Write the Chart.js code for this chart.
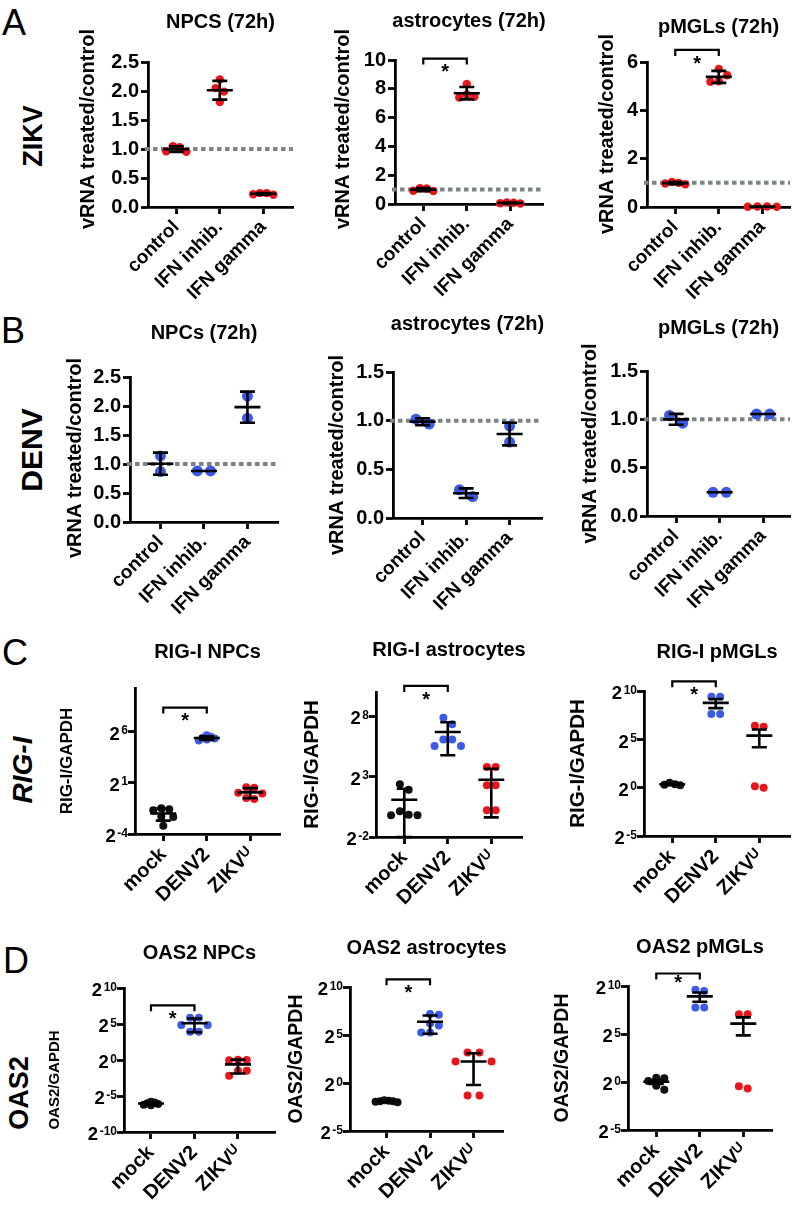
<!DOCTYPE html>
<html>
<head>
<meta charset="utf-8">
<script src="https://cdn.jsdelivr.net/npm/chart.js"></script>
<style>
  body { margin: 0; background: #fff; }
  #fig { position: relative; width: 796px; height: 1205px; overflow: hidden; font-family: 'Liberation Sans', Arial, sans-serif; color: #000; }
  canvas { position: absolute; }
  .lbl { position: absolute; white-space: nowrap; line-height: 1; }
  .letter { font-size: 36px; }
  .row { font-weight: bold; transform: translate(-50%, -50%) rotate(-90deg); }
</style>
</head>
<body>
<div id="fig">
  <div class="lbl letter" style="left:2px;top:5px">A</div>
  <div class="lbl letter" style="left:1px;top:313px">B</div>
  <div class="lbl letter" style="left:2px;top:635px">C</div>
  <div class="lbl letter" style="left:3px;top:943px">D</div>
  <div class="lbl row" style="left:33px;top:136px;font-size:27px">ZIKV</div>
  <div class="lbl row" style="left:32px;top:450px;font-size:30px">DENV</div>
  <div class="lbl row" style="left:23px;top:770px;font-size:28px;font-style:italic">RIG-I</div>
  <div class="lbl row" style="left:19px;top:1093px;font-size:27px">OAS2</div>
</div>
<script>
const fam = "'Liberation Sans', Arial, sans-serif";

// categories
const vrnaCats = ['control', 'IFN inhib.', 'IFN gamma'];
const infCats = ['mock', 'DENV2', 'ZIKV\u1D41'];

// A: ZIKV vRNA treated/control, one array per group
const zikvNpc   = [[1.03, 0.95, 0.96, 1.05], [2.20, 2.05, 1.99, 1.81], [0.24, 0.21, 0.22, 0.24]];
const zikvAstro = [[1.08, 0.90, 0.92, 1.10], [8.33, 7.60, 7.40, 7.45], [0.09, 0.03, 0.05, 0.10]];
const zikvMgl   = [[1.00, 0.94, 0.97, 1.04], [5.71, 5.45, 5.20, 5.18], [0.02, 0.01, 0.02, 0.01]];

// B: DENV vRNA treated/control
const denvNpc   = [[1.14, 0.87], [0.88, 0.88], [2.17, 1.79]];
const denvAstro = [[0.965, 1.015], [0.22, 0.29], [0.945, 0.78]];
const denvMgl   = [[0.96, 1.04], [0.245, 0.245], [1.055, 1.055]];

// C: RIG-I/GAPDH, stored as log2
const rigNpc   = [[-1.5, -1.7, -1.6, -2.35, -2.3, -3.2], [5.6, 5.45, 5.3, 5.2, 5.1, 5.35], [0.5, 0.55, 0.0, -0.05, -0.5, -0.6]];
const rigAstro = [[2.36, 1.92, -0.15, -0.2, -0.2, 0.13], [7.86, 7.34, 6.07, 5.54, 5.54, 6.07], [3.8, 3.8, 2.28, 2.28, 0.21, 0.21]];
const rigMgl   = [[0.35, 0.25, 0.3, 0.5], [9.41, 9.41, 7.62, 7.62], [6.41, 6.31, 0.0, 0.14]];

// D: OAS2/GAPDH, stored as log2
const oasNpc   = [[-6.0, -5.8, -6.2, -5.9, -6.1, -6.3], [5.88, 5.88, 4.86, 4.86, 3.94, 3.94], [0.05, 0.0, -0.05, -1.5, -1.5, -2.2]];
const oasAstro = [[-1.8, -1.9, -2.0, -1.85, -1.95, -1.9], [7.2, 7.1, 6.2, 6.0, 5.25, 5.25], [3.17, 3.17, 2.24, 2.24, -1.31, -1.31]];
const oasMgl   = [[0.45, 0.4, 0.1, -0.4, -0.8], [9.62, 9.48, 7.76, 7.76], [7.07, 7.07, -0.69, -0.45]];

// y tick values
const ticks25 = [0, 0.5, 1, 1.5, 2, 2.5];
const ticks15 = [0, 0.5, 1, 1.5];
const ticks10 = [0, 2, 4, 6, 8, 10];
const ticks6 = [0, 2, 4, 6];
const ticksRigNpc = [-4, 1, 6];
const ticksRigAstro = [-2, 3, 8];
const ticksLog5 = [-5, 0, 5, 10];
const ticksLog10 = [-10, -5, 0, 5, 10];

const red = '#e8161b', blue = '#3b5be6', black = '#111';
const vTitle = 'vRNA treated/control';

const panels = [
  { title: 'NPCS (72h)', cats: vrnaCats, vals: zikvNpc, ticks: ticks25, dec: 1, y: [0, 2.5], box: [148, 62, 293, 207], titleY: 22, yTitle: vTitle, yTitleX: 88, yTitleY: 129, yTitleSize: 20, colors: [red, red, red], r: 4.2, gaps: [0.8, 1, 0.8], err: 'sd', ref: 1 },
  { title: 'astrocytes (72h)', cats: vrnaCats, vals: zikvAstro, ticks: ticks10, dec: 0, y: [0, 10], box: [395, 60, 543, 204], titleY: 21, yTitle: vTitle, yTitleX: 343, yTitleY: 129, yTitleSize: 20, colors: [red, red, red], r: 4.2, gaps: [0.8, 0.9, 0.8], err: 'sd', ref: 1, bracket: 10.1 },
  { title: 'pMGLs (72h)', cats: vrnaCats, vals: zikvMgl, ticks: ticks6, dec: 0, y: [0, 6], box: [647, 62, 790, 207], titleY: 27, yTitle: vTitle, yTitleX: 607, yTitleY: 134, yTitleSize: 20, colors: [red, red, red], r: 4.2, gaps: [0.8, 1, 1.15], err: 'sd', ref: 1, bracket: 6.5 },
  { title: 'NPCs (72h)', cats: vrnaCats, vals: denvNpc, ticks: ticks25, dec: 1, y: [0, 2.5], box: [130, 377, 278, 522], xMin: -0.7, titleY: 333, yTitle: vTitle, yTitleX: 75, yTitleY: 458, yTitleSize: 20, colors: [blue, blue, blue], r: 5.5, gaps: [1.2, 1.2, 1.2], err: 'sd', ref: 1 },
  { title: 'astrocytes (72h)', cats: vrnaCats, vals: denvAstro, ticks: ticks15, dec: 1, y: [0, 1.5], box: [393, 372, 542, 518], xMin: -0.68, titleY: 324, yTitle: vTitle, yTitleX: 337, yTitleY: 455, yTitleSize: 20, colors: [blue, blue, blue], r: 5.5, gaps: [1.2, 1.2, 1.2], err: 'sd', ref: 1 },
  { title: 'pMGLs (72h)', cats: vrnaCats, vals: denvMgl, ticks: ticks15, dec: 1, y: [0, 1.5], box: [647, 371, 790, 516], xMin: -0.67, titleY: 328, yTitle: vTitle, yTitleX: 590, yTitleSize: 20, colors: [blue, blue, blue], r: 5.5, gaps: [1.2, 1.2, 1.2], err: 'sd', ref: 1 },
  { title: 'RIG-I NPCs', cats: infCats, vals: rigNpc, ticks: ticksRigNpc, log: true, y: [-4, 10.2], box: [135, 688, 280, 834], titleY: 652, yTitle: 'RIG-I/GAPDH', yTitleX: 67, yTitleSize: 17, colors: [black, blue, red], r: 4, gaps: [1, 0.5, 1], err: 'sd', bracket: 8.3 },
  { title: 'RIG-I astrocytes', cats: infCats, vals: rigAstro, ticks: ticksRigAstro, log: true, y: [-2, 10], box: [376, 692, 522, 837], titleY: 650, yTitle: 'RIG-I/GAPDH', yTitleX: 312, yTitleSize: 20.5, colors: [black, blue, red], r: 4, gaps: [1.1, 1.1, 1.1], err: 'sd', bracket: 10.5 },
  { title: 'RIG-I pMGLs', cats: infCats, vals: rigMgl, ticks: ticksLog5, log: true, y: [-5, 10], box: [644, 691, 790, 836], titleY: 652, yTitle: 'RIG-I/GAPDH', yTitleX: 578, yTitleSize: 20.5, colors: [black, blue, red], r: 4, gaps: [0.66, 1.1, 1.1], err: 'sem', bracket: 11.0 },
  { title: 'OAS2 NPCs', cats: infCats, vals: oasNpc, ticks: ticksLog10, log: true, y: [-10, 10], box: [124, 988, 275, 1132], xMin: -0.62, titleY: 953, yTitle: 'OAS2/GAPDH', yTitleX: 55, yTitleY: 1080, yTitleSize: 15, colors: [black, blue, red], r: 4, gaps: [0.45, 1.1, 1.1], err: 'sd', bracket: 7.6 },
  { title: 'OAS2 astrocytes', cats: infCats, vals: oasAstro, ticks: ticksLog5, log: true, y: [-5, 10], box: [350, 987, 503, 1131], xMin: -0.84, titleY: 948, yTitle: 'OAS2/GAPDH', yTitleX: 297, yTitleSize: 19.5, colors: [black, blue, red], r: 4, gaps: [0.55, 1.1, 1.5], err: 'sd', bracket: 10.8 },
  { title: 'OAS2 pMGLs', cats: infCats, vals: oasMgl, ticks: ticksLog5, log: true, y: [-5, 10], box: [628, 986, 772, 1130], titleY: 947, yTitle: 'OAS2/GAPDH', yTitleX: 563, yTitleSize: 19.5, colors: [black, blue, red], r: 4, gaps: [1, 1.1, 1.1], err: 'sem', bracket: 11.3, starDy: 4 }
];

// mean +/- SD or SEM; log panels average the linear ratios
function stats(vals, log, err) {
  const lin = log ? vals.map(v => Math.pow(2, v)) : vals;
  const n = lin.length;
  const m = lin.reduce((a, b) => a + b, 0) / n;
  const sd = Math.sqrt(lin.reduce((a, b) => a + (b - m) * (b - m), 0) / (n - 1));
  const e = err === 'sem' ? sd / Math.sqrt(n) : sd;
  const f = v => log ? Math.log2(v) : v;
  return { mean: f(m), hi: f(m + e), lo: (log && m - e <= 0) ? -Infinity : f(m - e) };
}

// spread overlapping dots sideways (pixel offsets)
function swarm(vals, pxY, gap) {
  const order = vals.map((v, i) => i).sort((a, b) => vals[b] - vals[a]);
  const off = vals.map(() => 0);
  let group = [];
  const place = () => {
    const done = [];
    group.forEach(i => {
      for (let k = 0; k < 60; k++) {
        const o = (k % 2 ? 1 : -1) * Math.ceil(k / 2) * gap / 2;
        if (done.every(j => Math.hypot(off[j] - o, (vals[j] - vals[i]) * pxY) >= gap - 0.01)) { off[i] = o; break; }
      }
      done.push(i);
    });
    const xs = group.map(i => off[i]);
    const mid = (Math.min(...xs) + Math.max(...xs)) / 2;
    group.forEach(i => { off[i] -= mid; });
  };
  order.forEach(i => {
    const last = group[group.length - 1];
    if (group.length && (vals[last] - vals[i]) * pxY >= gap) { place(); group = []; }
    group.push(i);
  });
  place();
  return off;
}

function decorate(p, origin) {
  return {
    id: 'deco',
    beforeDatasetsDraw(chart) {
      if (p.ref == null) return;
      const { ctx, chartArea: a, scales: { y } } = chart;
      const yy = y.getPixelForValue(p.ref);
      ctx.save();
      ctx.strokeStyle = '#7b8585';
      ctx.lineWidth = 4;
      ctx.setLineDash([4.5, 3.5]);
      ctx.beginPath();
      ctx.moveTo(a.left - 3, yy);
      ctx.lineTo(a.right, yy);
      ctx.stroke();
      ctx.restore();
    },
    afterDatasetsDraw(chart) {
      const { ctx, scales: { x, y } } = chart;
      ctx.save();
      ctx.strokeStyle = '#000';
      ctx.lineWidth = 2.6;
      p.vals.forEach((g, i) => {
        const s = stats(g, p.log, p.err);
        const cx = x.getPixelForValue(i);
        const ym = y.getPixelForValue(s.mean);
        const yh = y.getPixelForValue(Math.min(s.hi, p.y[1]));
        const yl = y.getPixelForValue(Math.max(s.lo, p.y[0]));
        ctx.beginPath();
        ctx.moveTo(cx, yh); ctx.lineTo(cx, yl);
        ctx.moveTo(cx - 7.5, yh); ctx.lineTo(cx + 7.5, yh);
        ctx.moveTo(cx - 7.5, yl); ctx.lineTo(cx + 7.5, yl);
        ctx.moveTo(cx - 13, ym); ctx.lineTo(cx + 13, ym);
        ctx.stroke();
      });
      ctx.restore();
    },
    afterDraw(chart) {
      const { ctx, chartArea: a, scales: { x, y } } = chart;
      ctx.save();
      ctx.fillStyle = '#000';
      // panel title
      ctx.font = 'bold 20px ' + fam;
      ctx.textAlign = 'center';
      ctx.textBaseline = 'middle';
      ctx.fillText(p.title, (a.left + a.right) / 2, p.titleY - origin.top);
      // y axis title
      ctx.save();
      const ty = p.yTitleY != null ? p.yTitleY - origin.top : (a.top + a.bottom) / 2;
      ctx.translate(p.yTitleX - origin.left, ty);
      ctx.rotate(-Math.PI / 2);
      ctx.font = 'bold ' + p.yTitleSize + 'px ' + fam;
      ctx.fillText(p.yTitle, 0, 0);
      ctx.restore();
      // significance bracket
      if (p.bracket != null) {
        const by = y.getPixelForValue(p.bracket);
        const x0 = x.getPixelForValue(0), x1 = x.getPixelForValue(1);
        ctx.strokeStyle = '#000';
        ctx.lineWidth = 2.2;
        ctx.beginPath();
        ctx.moveTo(x0, by + 6); ctx.lineTo(x0, by); ctx.lineTo(x1, by); ctx.lineTo(x1, by + 6);
        ctx.stroke();
        ctx.font = 'bold 20px ' + fam;
        ctx.textBaseline = 'alphabetic';
        ctx.fillText('*', (x0 + x1) / 2, by + (p.starDy || 8) + 11.6);
      }
      // powers of two on log panels
      if (p.log) {
        const ts = 18.5, es = 12;
        ctx.textAlign = 'right';
        ctx.textBaseline = 'alphabetic';
        p.ticks.forEach(v => {
          const yy = y.getPixelForValue(v);
          const base = yy + 0.45 * ts;
          const top = base - 0.716 * ts;
          ctx.font = 'bold ' + es + 'px ' + fam;
          const ew = ctx.measureText(String(v)).width;
          ctx.fillText(String(v), a.left - 7, top - 1 + 0.716 * es);
          ctx.font = 'bold ' + ts + 'px ' + fam;
          ctx.fillText('2', a.left - 8.5 - ew, base);
        });
      }
      ctx.restore();
    }
  };
}

const fig = document.getElementById('fig');
const padTop = 80, padBot = 100, padR = 14;

panels.forEach(p => {
  const [L, T, R, B] = p.box;
  const cl = Math.round(p.yTitleX - 2 - 0.6 * p.yTitleSize);
  const padL = L - cl;
  const w = R - L + padL + padR, h = B - T + padTop + padBot;
  const cv = document.createElement('canvas');
  cv.width = w; cv.height = h;
  cv.style.left = cl + 'px';
  cv.style.top = (T - padTop) + 'px';
  cv.style.width = w + 'px';
  cv.style.height = h + 'px';
  fig.appendChild(cv);

  const xMin = p.xMin != null ? p.xMin : -0.65;
  const xMax = xMin + (R - L) / 43.5;
  const pxX = (R - L) / (xMax - xMin), pxY = (B - T) / (p.y[1] - p.y[0]);

  const datasets = p.vals.map((g, i) => {
    const off = swarm(g, pxY, 2 * p.r * p.gaps[i]);
    return {
      data: g.map((v, k) => ({ x: i + off[k] / pxX, y: v })),
      backgroundColor: p.colors[i],
      borderWidth: 0,
      pointRadius: p.r,
      pointHoverRadius: p.r,
      clip: false
    };
  });

  new Chart(cv, {
    type: 'scatter',
    data: { datasets },
    options: {
      responsive: false,
      animation: false,
      devicePixelRatio: 1,
      events: [],
      layout: { padding: { top: padTop, right: padR, left: 0, bottom: 0 } },
      plugins: { legend: { display: false }, tooltip: { enabled: false } },
      scales: {
        x: {
          type: 'linear', min: xMin, max: xMax,
          afterBuildTicks: s => { s.ticks = p.cats.map((c, i) => ({ value: i })); },
          afterFit: s => { s.height = padBot; },
          ticks: {
            autoSkip: false, minRotation: 45, maxRotation: 45, padding: 2, color: '#000',
            font: { family: fam, size: p.log ? 20 : 19, weight: 'bold' },
            callback: v => p.cats[v]
          },
          grid: { drawOnChartArea: false, drawTicks: true, tickLength: 7, tickWidth: 2.8, tickColor: '#000' },
          border: { color: '#000', width: 2.8 }
        },
        y: {
          type: 'linear', min: p.y[0], max: p.y[1],
          afterBuildTicks: s => { s.ticks = p.ticks.map(v => ({ value: v })); },
          afterFit: s => { s.width = padL; },
          ticks: {
            padding: 2, color: '#000',
            font: { family: fam, size: 20, weight: 'bold' },
            callback: v => p.log ? '' : v.toFixed(p.dec)
          },
          title: { display: false },
          grid: { drawOnChartArea: false, drawTicks: true, tickLength: 7, tickWidth: 2.8, tickColor: '#000' },
          border: { color: '#000', width: 2.8 }
        }
      }
    },
    plugins: [decorate(p, { top: T - padTop, left: cl })]
  });
});
</script>
</body>
</html>
